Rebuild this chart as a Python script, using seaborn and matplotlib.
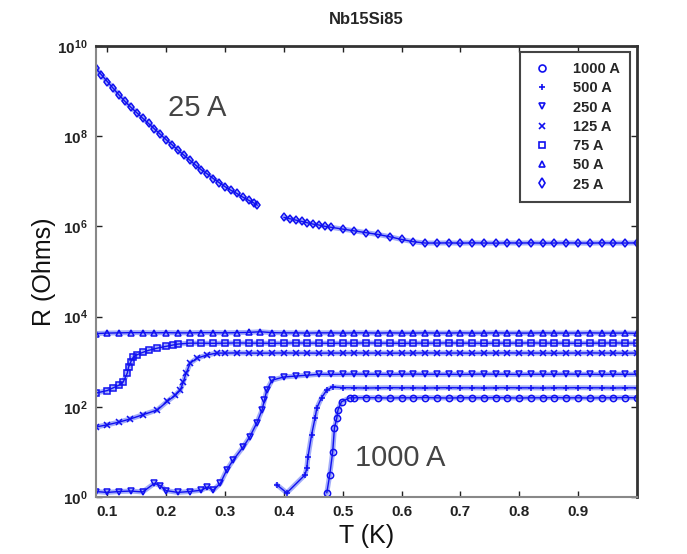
import math

import matplotlib
matplotlib.use("Agg")
import seaborn as sns
from matplotlib import pyplot as plt
from matplotlib.lines import Line2D
from matplotlib.ticker import FuncFormatter, NullLocator

# temperature (K) and resistance (Ohms)
T_1000 = [0.473, 0.478, 0.483, 0.486, 0.490, 0.492, 0.498, 0.512,
          0.52, 0.54, 0.56, 0.58, 0.60, 0.62, 0.64, 0.66, 0.68, 0.70,
          0.72, 0.74, 0.76, 0.78, 0.80, 0.82, 0.84, 0.86, 0.88, 0.90,
          0.92, 0.94, 0.96, 0.98, 1.00]
R_1000 = [1.23, 3.09, 10.0, 33.9, 56.2, 85.1, 129, 158,
          158, 160, 158, 156, 158, 158, 160, 158, 156, 158,
          158, 158, 160, 158, 156, 158, 158, 160, 158, 158,
          156, 158, 158, 160, 158]

T_500 = [0.388, 0.405, 0.436, 0.439, 0.441, 0.447, 0.453, 0.456, 0.464, 0.473, 0.483,
         0.50, 0.52, 0.54, 0.56, 0.58, 0.60, 0.62, 0.64, 0.66, 0.68,
         0.70, 0.72, 0.74, 0.76, 0.78, 0.80, 0.82, 0.84, 0.86, 0.88,
         0.90, 0.92, 0.94, 0.96, 0.98, 1.00]
R_500 = [1.86, 1.23, 3.09, 4.37, 7.76, 23.4, 56.2, 93.3, 158, 234, 275,
         265, 263, 260, 263, 265, 263, 263, 260, 263, 265,
         263, 263, 260, 263, 265, 263, 263, 260, 263, 263,
         265, 263, 263, 260, 263, 263]

T_250 = [0.08, 0.10, 0.12, 0.14, 0.16, 0.18, 0.19, 0.20, 0.22, 0.24,
         0.26, 0.27, 0.28, 0.292, 0.303, 0.314, 0.331, 0.342, 0.354, 0.363,
         0.367, 0.371, 0.38, 0.40, 0.42, 0.44,
         0.46, 0.48, 0.50, 0.52, 0.54, 0.56, 0.58, 0.60, 0.62, 0.64,
         0.66, 0.68, 0.70, 0.72, 0.74, 0.76, 0.78, 0.80, 0.82, 0.84,
         0.86, 0.88, 0.90, 0.92, 0.94, 0.96, 0.98, 1.00]
R_250 = [1.32, 1.26, 1.32, 1.35, 1.29, 2.0, 1.78, 1.38, 1.26, 1.32,
         1.41, 1.66, 1.41, 2.0, 3.98, 6.6, 12.9, 21.4, 43.7, 85.1,
         141, 234, 389, 457, 479, 501,
         525, 520, 525, 530, 525, 525, 520, 525, 530, 525,
         525, 525, 520, 525, 530, 525, 525, 520, 525, 525,
         525, 530, 525, 525, 520, 525, 525, 525]

T_125 = [0.08, 0.10, 0.12, 0.139, 0.16, 0.185, 0.202, 0.215, 0.224, 0.229,
         0.234, 0.241, 0.253, 0.27, 0.286,
         0.30, 0.32, 0.34, 0.36, 0.38, 0.40, 0.42, 0.44, 0.46, 0.48,
         0.50, 0.52, 0.54, 0.56, 0.58, 0.60, 0.62, 0.64, 0.66, 0.68,
         0.70, 0.72, 0.74, 0.76, 0.78, 0.80, 0.82, 0.84, 0.86, 0.88,
         0.90, 0.92, 0.94, 0.96, 0.98, 1.00]
R_125 = [35.5, 39.8, 45.7, 53.7, 66.1, 85.1, 132, 178, 234, 355,
         562, 933, 1202, 1413, 1549,
         1550, 1560, 1550, 1540, 1550, 1560, 1550, 1550, 1540, 1550,
         1550, 1560, 1550, 1550, 1540, 1550, 1550, 1560, 1550, 1550,
         1550, 1540, 1550, 1550, 1560, 1550, 1550, 1550, 1540, 1550,
         1550, 1560, 1550, 1550, 1540, 1550]

T_75 = [0.08, 0.10, 0.11, 0.12, 0.127, 0.134, 0.136, 0.14, 0.144, 0.15,
        0.161, 0.17, 0.185, 0.20, 0.212, 0.22, 0.24,
        0.26, 0.28, 0.30, 0.32, 0.34, 0.36, 0.38, 0.40, 0.42, 0.44,
        0.46, 0.48, 0.50, 0.52, 0.54, 0.56, 0.58, 0.60, 0.62, 0.64,
        0.66, 0.68, 0.70, 0.72, 0.74, 0.76, 0.78, 0.80, 0.82, 0.84,
        0.86, 0.88, 0.90, 0.92, 0.94, 0.96, 0.98, 1.00]
R_75 = [200, 229, 263, 302, 355, 562, 759, 1000, 1259, 1413,
        1622, 1778, 1995, 2188, 2344, 2455, 2570,
        2570, 2550, 2570, 2600, 2570, 2570, 2550, 2570, 2600, 2570,
        2570, 2550, 2570, 2570, 2600, 2570, 2570, 2550, 2570, 2570,
        2570, 2600, 2570, 2570, 2550, 2570, 2570, 2570, 2600, 2570,
        2570, 2570, 2550, 2570, 2570, 2600, 2570, 2570]

T_50 = [0.08, 0.10, 0.12, 0.14, 0.16, 0.18, 0.20, 0.22, 0.24, 0.26,
        0.28, 0.30, 0.32, 0.34, 0.36, 0.38, 0.40, 0.42, 0.44, 0.46,
        0.48, 0.50, 0.52, 0.54, 0.56, 0.58, 0.60, 0.62, 0.64, 0.66,
        0.68, 0.70, 0.72, 0.74, 0.76, 0.78, 0.80, 0.82, 0.84, 0.86,
        0.88, 0.90, 0.92, 0.94, 0.96, 0.98, 1.00]
R_50 = [4200, 4300, 4350, 4400, 4400, 4350, 4400, 4350, 4350, 4400,
        4400, 4350, 4400, 4450, 4600, 4400, 4350, 4350, 4300, 4350,
        4350, 4300, 4350, 4350, 4300, 4350, 4300, 4300, 4350, 4300,
        4300, 4350, 4300, 4300, 4350, 4300, 4300, 4300, 4350, 4300,
        4300, 4300, 4350, 4300, 4300, 4300, 4250]

# 25 A has a gap between 0.355 K and 0.40 K
T_25a = [0.08, 0.09, 0.10, 0.11, 0.12, 0.13, 0.14, 0.15, 0.16, 0.17,
         0.18, 0.19, 0.20, 0.21, 0.22, 0.23, 0.24, 0.25, 0.26, 0.27,
         0.28, 0.29, 0.30, 0.31, 0.32, 0.33, 0.34, 0.35, 0.355]
R_25a = [3.24e9, 2.29e9, 1.62e9, 1.15e9, 8.13e8, 5.89e8, 4.37e8, 3.31e8, 2.51e8, 1.91e8,
         1.45e8, 1.10e8, 8.32e7, 6.46e7, 4.90e7, 3.80e7, 2.95e7, 2.29e7, 1.78e7, 1.45e7,
         1.15e7, 9.33e6, 7.59e6, 6.31e6, 5.37e6, 4.47e6, 3.80e6, 3.24e6, 2.95e6]
T_25b = [0.40, 0.41, 0.42, 0.43, 0.44, 0.45, 0.46, 0.47, 0.48, 0.50,
         0.52, 0.54, 0.56, 0.58, 0.60, 0.62, 0.64,
         0.66, 0.68, 0.70, 0.72, 0.74, 0.76, 0.78, 0.80, 0.82, 0.84,
         0.86, 0.88, 0.90, 0.92, 0.94, 0.96, 0.98, 1.00]
R_25b = [1.58e6, 1.48e6, 1.38e6, 1.29e6, 1.20e6, 1.12e6, 1.07e6, 1.00e6, 9.55e5, 8.71e5,
         7.94e5, 7.24e5, 6.61e5, 5.89e5, 5.13e5, 4.57e5, 4.27e5,
         4.27e5, 4.30e5, 4.25e5, 4.30e5, 4.27e5, 4.25e5, 4.30e5, 4.27e5, 4.30e5, 4.25e5,
         4.27e5, 4.30e5, 4.27e5, 4.25e5, 4.30e5, 4.27e5, 4.27e5, 4.30e5]

labels = ["1000 A", "500 A", "250 A", "125 A", "75 A", "50 A", "25 A"]
markers = ["o", "+", "v", "x", "s", "^", "d"]
x_ticks = [0.1, 0.2, 0.3, 0.4, 0.5, 0.6, 0.7, 0.8, 0.9]
y_ticks = [1e0, 1e2, 1e4, 1e6, 1e8, 1e10]

BLUE = "#1010f0"
BAND = "#5a6cf5"

sns.set_style("ticks", {"xtick.direction": "in", "ytick.direction": "in"})
plt.rcParams["font.family"] = ["Liberation Sans", "DejaVu Sans"]
plt.rcParams["mathtext.fontset"] = "custom"
plt.rcParams["mathtext.rm"] = "Liberation Sans"
plt.rcParams["mathtext.bf"] = "Liberation Sans:bold"


def draw_series(ax, t, r, marker):
    # a soft wide band under the markers, like the dense original sampling
    sns.lineplot(x=t, y=r, ax=ax, color=BAND, linewidth=3.6, alpha=0.55,
                 estimator=None, sort=False)
    sns.lineplot(x=t, y=r, ax=ax, color=BLUE, marker=marker, markersize=4.5,
                 markerfacecolor="none", markeredgecolor=BLUE, markeredgewidth=1.1,
                 linewidth=1.0, estimator=None, sort=False)


fig = plt.figure(figsize=(6.87, 5.54), dpi=100)
ax = fig.add_axes([0.140, 0.103, 0.787, 0.814])
ax.set_yscale("log")

series = [(T_1000, R_1000), (T_500, R_500), (T_250, R_250), (T_125, R_125),
          (T_75, R_75), (T_50, R_50), (T_25a, R_25a), (T_25b, R_25b)]
series_markers = markers + ["d"]
for (t, r), m in zip(series, series_markers):
    draw_series(ax, t, r, m)

ax.set_xlim(0.081, 1.0)
ax.set_ylim(1, 1e10)
ax.set_xticks(x_ticks)
ax.set_xticklabels([f"{v:.1f}" for v in x_ticks])
ax.set_yticks(y_ticks)
ax.yaxis.set_minor_locator(NullLocator())
ax.yaxis.set_major_formatter(FuncFormatter(lambda v, p: r"$\mathbf{10^{%d}}$" % round(math.log10(v))))
ax.tick_params(top=True, right=True, direction="in", length=4, width=1,
               labelsize=11, pad=6, colors="#222222")
for lab in ax.get_xticklabels():
    lab.set_fontweight("bold")

for side in ["left", "bottom"]:
    ax.spines[side].set_color("#888888")
    ax.spines[side].set_linewidth(1.5)
for side in ["top", "right"]:
    ax.spines[side].set_color("#333333")
    ax.spines[side].set_linewidth(2.0)

ax.set_xlabel("T (K)", fontsize=18, color="#111111")
ax.set_ylabel("R (Ohms)", fontsize=18, color="#111111")
ax.xaxis.set_label_coords(0.5, -0.06)
ax.yaxis.set_label_coords(-0.075, 0.5)
ax.set_title("Nb15Si85", fontsize=12, fontweight="bold", pad=16)

ax.text(0.253, 10 ** 8.62, "25 A", fontsize=21, color="#444444", ha="center", va="center")
ax.text(0.598, 10 ** 0.86, "1000 A", fontsize=21, color="#444444", ha="center", va="center")

handles = [Line2D([], [], linestyle="none", marker=m, markersize=5, color=BLUE,
                  markerfacecolor="none", markeredgewidth=1.2) for m in markers]
leg = ax.legend(handles, labels, loc="upper right", bbox_to_anchor=(0.987, 0.987),
                frameon=True, fancybox=False, edgecolor="#444444", framealpha=1,
                prop={"size": 10.5, "weight": "bold"}, labelspacing=0.36,
                handlelength=1.6, handletextpad=1.3, borderpad=0.7, borderaxespad=0)
leg.get_frame().set_linewidth(1.5)

fig.savefig("out.png", dpi=100)
